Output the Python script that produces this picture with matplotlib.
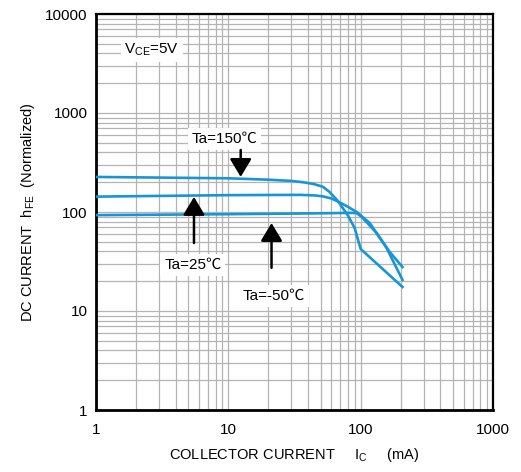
import matplotlib
matplotlib.use("Agg")
import matplotlib.pyplot as plt
import numpy as np

plt.rcParams['font.family'] = ['Liberation Sans', 'Noto Sans CJK SC', 'DejaVu Sans']
plt.rcParams['mathtext.fontset'] = 'custom'
plt.rcParams['mathtext.rm'] = 'Liberation Sans'

# ---- data ----
ic_150 = [1, 10, 20, 30, 36.5, 44, 51.7, 58, 67, 79.8, 90, 100, 207]
h_150 = [226, 219, 212, 206, 200, 192, 180, 160, 130, 93, 69, 42.3, 17.5]

ic_25 = [1, 10, 35, 45, 51.7, 60, 67, 80, 93.3, 117, 157, 207]
h_25 = [143, 148, 149, 147, 144, 137, 128, 113, 100, 77.4, 43.3, 20.6]

ic_m50 = [1, 10, 50, 85, 93.3, 102, 132, 166, 207]
h_m50 = [93, 95, 97, 98, 97.5, 89, 61.4, 39.4, 27.8]

x_ticks = [1, 10, 100, 1000]
x_ticklabels = ["1", "10", "100", "1000"]
y_ticks = [1, 10, 100, 1000, 10000]
y_ticklabels = ["1", "10", "100", "1000", "10000"]

line_color = '#1696d6'
grid_color = '#b4b4b4'

fig = plt.figure(figsize=(5.21, 4.72), dpi=100)
ax = fig.add_axes([96/521, 1-410/472, (493-96)/521, (410-14)/472])
ax.set_xscale('log')
ax.set_yscale('log')
ax.set_xlim(1, 1000)
ax.set_ylim(1, 10000)

ax.grid(True, which='both', color=grid_color, linewidth=0.9)
ax.set_axisbelow(True)

for xs, ys in [(ic_150, h_150), (ic_25, h_25), (ic_m50, h_m50)]:
    ax.plot(xs, ys, color=line_color, linewidth=1.9, solid_joinstyle='round', zorder=3)

ax.set_xticks(x_ticks)
ax.set_xticklabels(x_ticklabels)
ax.set_yticks(y_ticks)
ax.set_yticklabels(y_ticklabels)
ax.tick_params(which='both', length=0)
ax.tick_params(axis='x', labelsize=11, pad=9)
ax.tick_params(axis='y', labelsize=11, pad=6)

for s in ['left', 'bottom']:
    ax.spines[s].set_linewidth(2.0)
for s in ['top', 'right']:
    ax.spines[s].set_linewidth(1.6)

ax.set_xlabel(r"COLLECTOR CURRENT     I$_\mathregular{C}$     (mA)", fontsize=10.5, labelpad=7)
ax.set_ylabel(r"DC CURRENT  h$_\mathregular{FE}$  (Normalized)", fontsize=10.5, labelpad=6)

box = dict(boxstyle='square,pad=0.25', fc='white', ec='none')
ax.text(2.65, 4330, r"V$_\mathregular{CE}$=5V", fontsize=11, ha='center', va='center', bbox=box, zorder=4)
ax.text(9.4, 546, "Ta=150℃", fontsize=11, ha='center', va='center', bbox=box, zorder=4)
ax.text(5.4, 29.2, "Ta=25℃", fontsize=11, ha='center', va='center', bbox=box, zorder=4)
ax.text(22.1, 14.2, "Ta=-50℃", fontsize=11, ha='center', va='center', bbox=box, zorder=4)

ap = dict(arrowstyle='-|>,head_length=0.55,head_width=0.33', lw=1.8, color='black',
          mutation_scale=20, shrinkA=0, shrinkB=0)
ax.annotate("", xy=(12.4, 226), xytext=(12.4, 423), arrowprops=ap, zorder=5)
ax.annotate("", xy=(5.5, 142), xytext=(5.5, 48.6), arrowprops=ap, zorder=5)
ax.annotate("", xy=(21.2, 77.4), xytext=(21.2, 27.3), arrowprops=ap, zorder=5)

fig.savefig("out.png", dpi=100)
